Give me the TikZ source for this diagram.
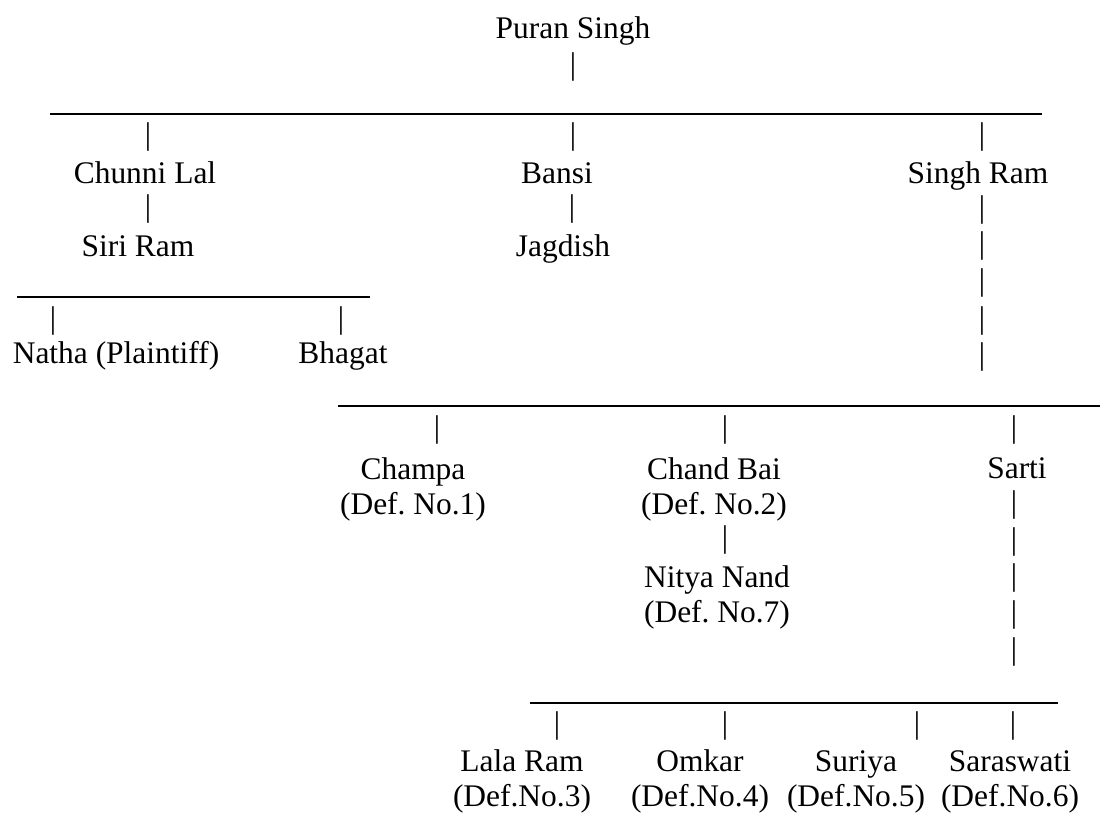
\documentclass[tikz,border=0pt]{standalone}
\usepackage{fontspec}
\setmainfont{Liberation Serif}
\newfontfamily\treefont{Liberation Serif}

\begin{document}
\frenchspacing
\begin{tikzpicture}[x=0.02cm,y=-0.02cm,
  every node/.style={font=\treefont\fontsize{17.9}{19.8}\selectfont, inner sep=0pt},
  person/.style={anchor=base, align=center},
  bar/.style={anchor=center},
  hline/.style={line width=1pt}]
\useasboundingbox (0,0) rectangle (1102,812);
%top
\node[person] (puran) at (573,38) {Puran Singh};
\node[bar] (p0) at (573,67) {|};
\draw[hline] (50,114) -- (1042,114);
\foreach \x [count=\i] in {148,573,982}
  \node[bar] (pa\i) at (\x,137) {|};
\node[person] (chunni) at (145,183) {Chunni Lal};
\node[person] (bansi) at (557,183) {Bansi};
\node[person] (singhram) at (978,183) {Singh Ram};
\node[bar] (pb1) at (148,209) {|};
\node[bar] (pb2) at (572,209) {|};
\node[person] (siriram) at (138,256) {Siri Ram};
\node[person] (jagdish) at (563,256) {Jagdish};
\foreach \y [count=\i] in {210,246,283,321,357}
  \node[bar] (ps\i) at (982,\y) {|};
%Siri Ram
\draw[hline] (17,297) -- (370,297);
\node[bar] (pc1) at (53,321) {|};
\node[bar] (pc2) at (341,321) {|};
\node[person] (natha) at (116,363) {Natha (Plaintiff)};
\node[person] (bhagat) at (343,363) {Bhagat};
%Singh Ram
\draw[hline] (338,406) -- (1100,406);
\foreach \x [count=\i] in {437,725,1014}
  \node[bar] (pd\i) at (\x,430) {|};
% base = last line
\node[person] (champa) at (413,514) {Champa\\(Def. No.1)};
\node[person] (chandbai) at (714,514) {Chand Bai\\(Def. No.2)};
\node[person] (sarti) at (1017,478) {Sarti};
\node[bar] (pe1) at (725,540) {|};
\node[person] (nityanand) at (717,622) {Nitya Nand\\(Def. No.7)};
\foreach \y [count=\i] in {505,542,578,615,652}
  \node[bar] (pt\i) at (1014,\y) {|};
%Sarti
\draw[hline] (530,703) -- (1058,703);
\foreach \x [count=\i] in {557,725,917,1013}
  \node[bar] (pf\i) at (\x,726) {|};
\node[person] (lalaram) at (522,806) {Lala Ram\\(Def.No.3)};
\node[person] (omkar) at (700,806) {Omkar\\(Def.No.4)};
\node[person] (suriya) at (856,806) {Suriya\\(Def.No.5)};
\node[person] (saraswati) at (1010,806) {Saraswati\\(Def.No.6)};
\end{tikzpicture}
\end{document}
